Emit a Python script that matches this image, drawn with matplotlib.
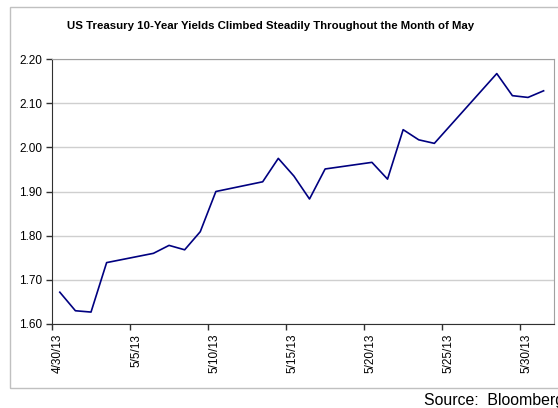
import datetime as dt
import matplotlib
matplotlib.use("Agg")
import matplotlib.pyplot as plt
import matplotlib.dates as mdates
import matplotlib.transforms as mtransforms
from matplotlib.patches import Rectangle

plt.rcParams['font.family'] = ['Liberation Sans', 'DejaVu Sans']

# trading days and 10-year yields (%)
dates = ["2013-04-30", "2013-05-01", "2013-05-02", "2013-05-03",
         "2013-05-06", "2013-05-07", "2013-05-08", "2013-05-09", "2013-05-10",
         "2013-05-13", "2013-05-14", "2013-05-15", "2013-05-16", "2013-05-17",
         "2013-05-20", "2013-05-21", "2013-05-22", "2013-05-23", "2013-05-24",
         "2013-05-28", "2013-05-29", "2013-05-30", "2013-05-31"]
yields = [1.672, 1.630, 1.627, 1.739,
          1.760, 1.778, 1.768, 1.809, 1.900,
          1.922, 1.975, 1.935, 1.883, 1.951,
          1.966, 1.928, 2.040, 2.017, 2.009,
          2.167, 2.117, 2.113, 2.128]
tick_dates = ["2013-04-30", "2013-05-05", "2013-05-10", "2013-05-15",
              "2013-05-20", "2013-05-25", "2013-05-30"]
y_ticks = [1.60, 1.70, 1.80, 1.90, 2.00, 2.10, 2.20]

title = "US Treasury 10-Year Yields Climbed Steadily Throughout the Month of May"
source = "Source:  Bloomberg"

to_dt = lambda s: dt.datetime.strptime(s, "%Y-%m-%d")
# Excel date axis: each point sits in the middle of its day slot
x = [to_dt(d) + dt.timedelta(hours=12) for d in dates]
xt = [to_dt(d) for d in tick_dates]

fig = plt.figure(figsize=(5.58, 4.08), dpi=100)
fig.patches.append(Rectangle((10 / 558, 1 - 388 / 408), 1.0, (388 - 7) / 408,
                             transform=fig.transFigure, fill=False,
                             edgecolor="#c0c0c0", linewidth=1.0))

ax = fig.add_axes([52 / 558, 1 - 324 / 408, 502 / 558, 265 / 408])
ax.plot(x, yields, color="#000080", linewidth=1.2)

ax.set_ylim(1.60, 2.20)
ax.set_yticks(y_ticks)
ax.set_yticklabels([f"{v:.2f}" for v in y_ticks])
ax.set_xlim(to_dt("2013-04-30"), to_dt("2013-06-01") + dt.timedelta(hours=4))
ax.set_xticks(xt)
ax.xaxis.set_major_formatter(mdates.DateFormatter("%-m/%-d/%y"))

ax.grid(axis="y", color="#cfcfcf", linewidth=1.0)
ax.set_axisbelow(True)
for s in ("top", "right"):
    ax.spines[s].set_color("#a0a0a0")
for s in ("left", "bottom"):
    ax.spines[s].set_color("#303030")
ax.tick_params(direction="out", length=4, width=1.0, color="#303030",
               labelsize=8.5, pad=3)

# rotated date labels sit a little right of their ticks
shift = mtransforms.ScaledTranslation(6 / 100, 0, fig.dpi_scale_trans)
for lab in ax.get_xticklabels():
    lab.set_rotation(90)
    lab.set_transform(lab.get_transform() + shift)

fig.text(271 / 558, 1 - 26 / 408, title, ha="center", va="center",
         fontsize=8.2, fontweight="bold")
fig.text(424 / 558, 1 - 401 / 408, source, ha="left", va="center", fontsize=11.4)

fig.savefig("out.png", dpi=100)
